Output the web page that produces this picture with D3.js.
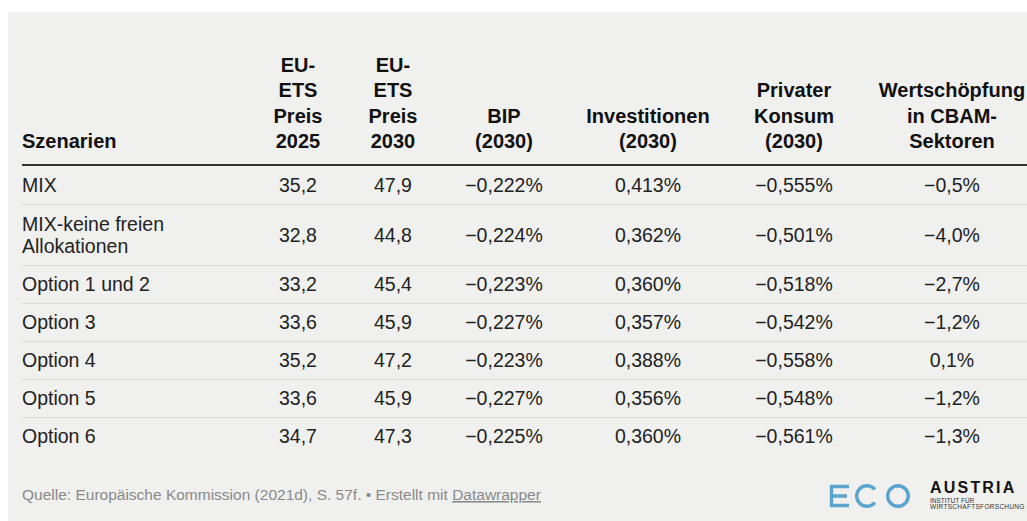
<!DOCTYPE html>
<html>
<head>
<meta charset="utf-8">
<script src="https://cdn.jsdelivr.net/npm/d3@7"></script>
<style>
  html, body { margin: 0; padding: 0; background: #fff; }
  svg { display: block; font-family: "Liberation Sans", Arial, Helvetica, sans-serif; }
</style>
</head>
<body>
<svg id="table" width="1027" height="521"></svg>
<script>
// data
const headers = [
  ["Szenarien"],
  ["EU-", "ETS", "Preis", "2025"],
  ["EU-", "ETS", "Preis", "2030"],
  ["BIP", "(2030)"],
  ["Investitionen", "(2030)"],
  ["Privater", "Konsum", "(2030)"],
  ["Wertschöpfung", "in CBAM-", "Sektoren"]
];
const scenarios = [
  ["MIX"],
  ["MIX-keine freien", "Allokationen"],
  ["Option 1 und 2"],
  ["Option 3"],
  ["Option 4"],
  ["Option 5"],
  ["Option 6"]
];
const etsPreis2025 = [35.2, 32.8, 33.2, 33.6, 35.2, 33.6, 34.7];
const etsPreis2030 = [47.9, 44.8, 45.4, 45.9, 47.2, 45.9, 47.3];
const bip2030 = [-0.222, -0.224, -0.223, -0.227, -0.223, -0.227, -0.225];
const investitionen2030 = [0.413, 0.362, 0.360, 0.357, 0.388, 0.356, 0.360];
const konsum2030 = [-0.555, -0.501, -0.518, -0.542, -0.558, -0.548, -0.561];
const wertschoepfung = [-0.5, -4.0, -2.7, -1.2, 0.1, -1.2, -1.3];

const de = d3.formatLocale({decimal: ",", thousands: ".", grouping: [3], currency: ["", " €"], minus: "\u2212"});
const f1 = de.format(".1f"), f3 = de.format(".3f");

const valueCols = [
  {values: etsPreis2025, fmt: v => f1(v)},
  {values: etsPreis2030, fmt: v => f1(v)},
  {values: bip2030, fmt: v => f3(v) + "%"},
  {values: investitionen2030, fmt: v => f3(v) + "%"},
  {values: konsum2030, fmt: v => f3(v) + "%"},
  {values: wertschoepfung, fmt: v => f1(v) + "%"}
];

// layout
const left = 22, right = 1027;
const colWidths = [228, 96, 94, 128, 160, 132, 184];
const colEdges = d3.cumsum([left].concat(colWidths));
const colCenter = i => (colEdges[i] + colEdges[i + 1]) / 2;

const headBase = 148, headLine = 25.5;
const ruleY = 165;
const lineH = 22;
const rowH = lines => 15 + 23 * lines;
const rowTops = [ruleY + 1];
scenarios.forEach(s => rowTops.push(rowTops[rowTops.length - 1] + rowH(s.length)));

const svg = d3.select("#table");

svg.append("rect")
  .attr("x", 8).attr("y", 12)
  .attr("width", 1019).attr("height", 509)
  .attr("fill", "#f0f0ef");

// header
const head = svg.append("g")
  .attr("font-weight", "bold")
  .attr("font-size", 20)
  .attr("fill", "#111");

headers.forEach((lines, i) => {
  const t = head.append("text")
    .attr("text-anchor", i === 0 ? "start" : "middle");
  lines.forEach((l, k) => {
    t.append("tspan")
      .attr("x", i === 0 ? left : colCenter(i))
      .attr("y", headBase - (lines.length - 1 - k) * headLine)
      .text(l);
  });
});

svg.append("line")
  .attr("x1", left).attr("x2", right)
  .attr("y1", ruleY).attr("y2", ruleY)
  .attr("stroke", "#333").attr("stroke-width", 2);

// rows
const body = svg.append("g")
  .attr("font-size", 19.5)
  .attr("fill", "#222");

scenarios.forEach((lines, r) => {
  const top = rowTops[r], bottom = rowTops[r + 1];
  const mid = (top + bottom) / 2;
  const t = body.append("text");
  lines.forEach((l, k) => {
    t.append("tspan")
      .attr("x", left)
      .attr("y", mid + 7 + (k - (lines.length - 1) / 2) * lineH)
      .text(l);
  });
  valueCols.forEach((c, j) => {
    body.append("text")
      .attr("x", colCenter(j + 1))
      .attr("y", mid + 7)
      .attr("text-anchor", "middle")
      .text(c.fmt(c.values[r]));
  });
  if (r < scenarios.length - 1) {
    svg.append("line")
      .attr("x1", left).attr("x2", right)
      .attr("y1", bottom + 0.5).attr("y2", bottom + 0.5)
      .attr("stroke", "#dadada").attr("stroke-width", 1);
  }
});

// footer
const foot = svg.append("text")
  .attr("x", left).attr("y", 500)
  .attr("font-size", 15.5)
  .attr("fill", "#8a8a8a");
foot.append("tspan").text("Quelle: Europäische Kommission (2021d), S. 57f. • Erstellt mit ");
foot.append("tspan").attr("text-decoration", "underline").text("Datawrapper");

// logo
const logo = svg.append("g");
const blue = "#5aa4cf";
logo.append("path")
  .attr("d", "M849,486.5 H831.5 V505.5 H849 M831.5,496 H847")
  .attr("fill", "none").attr("stroke", blue).attr("stroke-width", 3.4);
const arc = d3.arc().innerRadius(8.6).outerRadius(12);
logo.append("path")
  .attr("transform", "translate(867,496)")
  .attr("d", arc({startAngle: Math.PI / 2 + 0.7, endAngle: Math.PI / 2 + 2 * Math.PI - 0.7}))
  .attr("fill", blue);
logo.append("circle")
  .attr("cx", 898).attr("cy", 496).attr("r", 10.3)
  .attr("fill", "none").attr("stroke", blue).attr("stroke-width", 3.4);
logo.append("text")
  .attr("x", 930).attr("y", 493)
  .attr("font-size", 16).attr("font-weight", "bold")
  .attr("letter-spacing", 2.2).attr("fill", "#111")
  .text("AUSTRIA");
logo.append("text")
  .attr("x", 930).attr("y", 502.5)
  .attr("font-size", 6.5).attr("fill", "#333")
  .text("INSTITUT FÜR");
logo.append("text")
  .attr("x", 930).attr("y", 509)
  .attr("font-size", 6.5).attr("fill", "#333")
  .attr("letter-spacing", 0.3)
  .text("WIRTSCHAFTSFORSCHUNG");
</script>
</body>
</html>
